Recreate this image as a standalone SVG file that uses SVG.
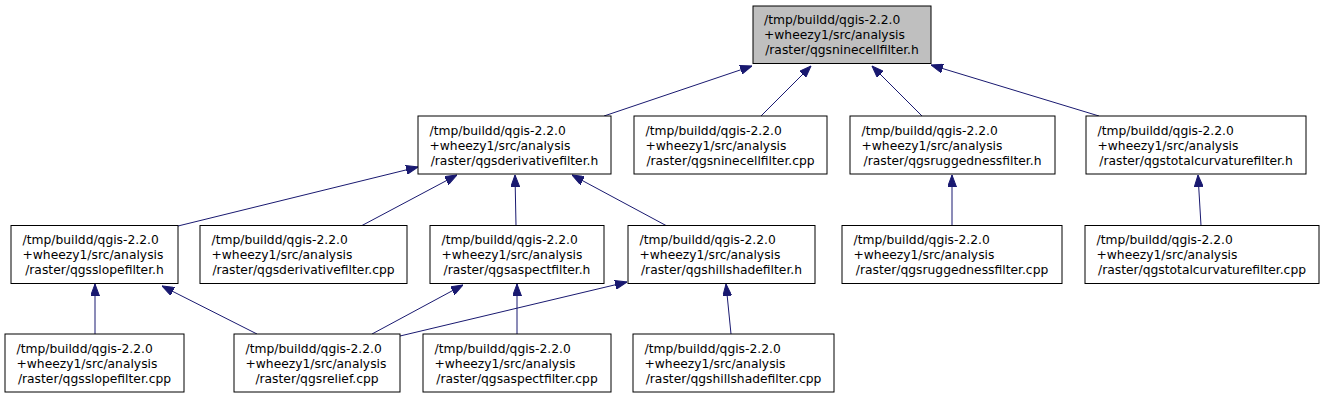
<svg xmlns="http://www.w3.org/2000/svg" width="1325" height="400" viewBox="0 0 1325 400">
<style>
.box{fill:#ffffff;stroke:#000000;stroke-width:1}
.root{fill:#bfbfbf;stroke:#000000;stroke-width:1}
text{font-family:"DejaVu Sans","Liberation Sans",sans-serif;font-size:12.3px;fill:#000000}
.c{text-anchor:middle}
.e{fill:none;stroke:#191970;stroke-width:1}
</style>
<defs>
<marker id="ah" markerUnits="userSpaceOnUse" markerWidth="12" markerHeight="9" refX="12" refY="4.5" orient="auto" viewBox="0 0 12 9">
<path d="M0,0 L12,4.5 L0,9 z" fill="#191970" stroke="#191970" stroke-width="1"/>
</marker>
</defs>
<rect width="1325" height="400" fill="#ffffff"/>
<g id="connectors">
<path class="e" marker-end="url(#ah)" d="M604,116 L752,66"/>
<path class="e" marker-end="url(#ah)" d="M761,116 L811,66"/>
<path class="e" marker-end="url(#ah)" d="M922,116 L872,66"/>
<path class="e" marker-end="url(#ah)" d="M1099,116 L931,65"/>
<path class="e" marker-end="url(#ah)" d="M178,226 L418,167"/>
<path class="e" marker-end="url(#ah)" d="M362,225.5 L457,175"/>
<path class="e" marker-end="url(#ah)" d="M516,225.5 L515,175"/>
<path class="e" marker-end="url(#ah)" d="M666,225.5 L572,175"/>
<path class="e" marker-end="url(#ah)" d="M952,225.5 L952,175"/>
<path class="e" marker-end="url(#ah)" d="M1201,225.5 L1198,175"/>
<path class="e" marker-end="url(#ah)" d="M95,334 L95,284"/>
<path class="e" marker-end="url(#ah)" d="M257,334 L162,286"/>
<path class="e" marker-end="url(#ah)" d="M372,334 L463,285"/>
<path class="e" marker-end="url(#ah)" d="M400,336 L627,282"/>
<path class="e" marker-end="url(#ah)" d="M517,334 L517,284"/>
<path class="e" marker-end="url(#ah)" d="M731,334 L726,284"/>
</g>
<g id="ninecellfilter_h">
<rect class="root" x="753" y="6" width="178" height="57.5"/>
<text x="764" y="24.3">/tmp/buildd/qgis-2.2.0</text>
<text x="764" y="39.3">+wheezy1/src/analysis</text>
<text class="c" x="842" y="54.3">/raster/qgsninecellfilter.h</text>
</g>
<g id="derivativefilter_h">
<rect class="box" x="418" y="116" width="193" height="58"/>
<text x="429.5" y="134.5">/tmp/buildd/qgis-2.2.0</text>
<text x="429.5" y="149.5">+wheezy1/src/analysis</text>
<text class="c" x="514.5" y="164.5">/raster/qgsderivativefilter.h</text>
</g>
<g id="ninecellfilter_cpp">
<rect class="box" x="634" y="116" width="193" height="58"/>
<text x="645.5" y="134.5">/tmp/buildd/qgis-2.2.0</text>
<text x="645.5" y="149.5">+wheezy1/src/analysis</text>
<text class="c" x="730.5" y="164.5">/raster/qgsninecellfilter.cpp</text>
</g>
<g id="ruggednessfilter_h">
<rect class="box" x="850" y="116" width="205" height="58"/>
<text x="861.5" y="134.5">/tmp/buildd/qgis-2.2.0</text>
<text x="861.5" y="149.5">+wheezy1/src/analysis</text>
<text class="c" x="952.5" y="164.5">/raster/qgsruggednessfilter.h</text>
</g>
<g id="totalcurvaturefilter_h">
<rect class="box" x="1086" y="116" width="220" height="58"/>
<text x="1097.5" y="134.5">/tmp/buildd/qgis-2.2.0</text>
<text x="1097.5" y="149.5">+wheezy1/src/analysis</text>
<text class="c" x="1196" y="164.5">/raster/qgstotalcurvaturefilter.h</text>
</g>
<g id="slopefilter_h">
<rect class="box" x="11" y="225.5" width="167" height="58"/>
<text x="22.5" y="244">/tmp/buildd/qgis-2.2.0</text>
<text x="22.5" y="259">+wheezy1/src/analysis</text>
<text class="c" x="94.5" y="274">/raster/qgsslopefilter.h</text>
</g>
<g id="derivativefilter_cpp">
<rect class="box" x="200" y="225.5" width="207" height="58"/>
<text x="211.5" y="244">/tmp/buildd/qgis-2.2.0</text>
<text x="211.5" y="259">+wheezy1/src/analysis</text>
<text class="c" x="303.5" y="274">/raster/qgsderivativefilter.cpp</text>
</g>
<g id="aspectfilter_h">
<rect class="box" x="430" y="225.5" width="174" height="58"/>
<text x="441.5" y="244">/tmp/buildd/qgis-2.2.0</text>
<text x="441.5" y="259">+wheezy1/src/analysis</text>
<text class="c" x="517" y="274">/raster/qgsaspectfilter.h</text>
</g>
<g id="hillshadefilter_h">
<rect class="box" x="628" y="225.5" width="187" height="58"/>
<text x="639.5" y="244">/tmp/buildd/qgis-2.2.0</text>
<text x="639.5" y="259">+wheezy1/src/analysis</text>
<text class="c" x="721.5" y="274">/raster/qgshillshadefilter.h</text>
</g>
<g id="ruggednessfilter_cpp">
<rect class="box" x="842" y="225.5" width="220" height="58"/>
<text x="853.5" y="244">/tmp/buildd/qgis-2.2.0</text>
<text x="853.5" y="259">+wheezy1/src/analysis</text>
<text class="c" x="952" y="274">/raster/qgsruggednessfilter.cpp</text>
</g>
<g id="totalcurvaturefilter_cpp">
<rect class="box" x="1085" y="225.5" width="234" height="58"/>
<text x="1096.5" y="244">/tmp/buildd/qgis-2.2.0</text>
<text x="1096.5" y="259">+wheezy1/src/analysis</text>
<text class="c" x="1202" y="274">/raster/qgstotalcurvaturefilter.cpp</text>
</g>
<g id="slopefilter_cpp">
<rect class="box" x="5" y="334" width="179" height="58"/>
<text x="16.5" y="352.5">/tmp/buildd/qgis-2.2.0</text>
<text x="16.5" y="367.5">+wheezy1/src/analysis</text>
<text class="c" x="94.5" y="382.5">/raster/qgsslopefilter.cpp</text>
</g>
<g id="relief_cpp">
<rect class="box" x="234" y="334" width="166" height="58"/>
<text x="245.5" y="352.5">/tmp/buildd/qgis-2.2.0</text>
<text x="245.5" y="367.5">+wheezy1/src/analysis</text>
<text class="c" x="317" y="382.5">/raster/qgsrelief.cpp</text>
</g>
<g id="aspectfilter_cpp">
<rect class="box" x="423" y="334" width="188" height="58"/>
<text x="434.5" y="352.5">/tmp/buildd/qgis-2.2.0</text>
<text x="434.5" y="367.5">+wheezy1/src/analysis</text>
<text class="c" x="517" y="382.5">/raster/qgsaspectfilter.cpp</text>
</g>
<g id="hillshadefilter_cpp">
<rect class="box" x="633" y="334" width="201" height="58"/>
<text x="644.5" y="352.5">/tmp/buildd/qgis-2.2.0</text>
<text x="644.5" y="367.5">+wheezy1/src/analysis</text>
<text class="c" x="733.5" y="382.5">/raster/qgshillshadefilter.cpp</text>
</g>
</svg>
